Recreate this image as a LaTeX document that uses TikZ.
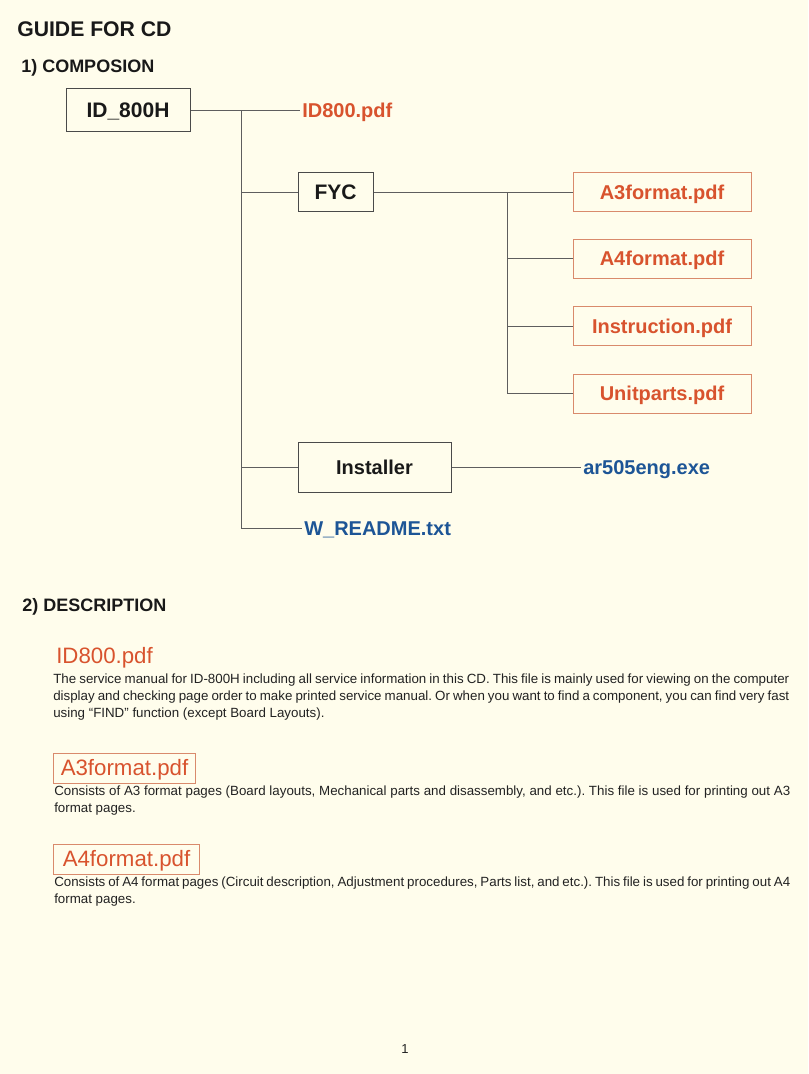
\documentclass[tikz,border=0pt]{standalone}
\usepackage{fontspec}
\setmainfont{Liberation Sans}
\definecolor{bg}{HTML}{FFFDEC}
\definecolor{orangeT}{HTML}{D8532E}
\definecolor{orangeB}{HTML}{D98A6C}
\definecolor{blueT}{HTML}{1D5596}
\definecolor{lineC}{HTML}{5E5E5E}
\definecolor{boxB}{HTML}{4A4A4A}
\definecolor{bodyT}{HTML}{222222}
\tikzset{
  ln/.style={draw=lineC, line width=0.75pt},
  title/.style={anchor=base west, inner sep=0pt, text=black!90, font=\fontsize{15.9pt}{18pt}\selectfont\bfseries},
  section/.style={anchor=base west, inner sep=0pt, text=black!90, font=\fontsize{13.5pt}{16pt}\selectfont\bfseries},
  treebox/.style={draw=boxB, line width=0.75pt, inner sep=0pt, text=black!90, text height=11.2pt, text depth=0pt, font=\fontsize{15.75pt}{18pt}\selectfont\bfseries},
  filebox/.style={draw=orangeB, line width=0.75pt, inner sep=0pt, minimum width=133.5pt, minimum height=29.25pt, text=orangeT, text height=10.7pt, text depth=0pt, font=\fontsize{15pt}{18pt}\selectfont\bfseries},
  filetext/.style={anchor=west, inner sep=1.5pt, text height=10.7pt, text depth=0pt, font=\fontsize{15pt}{18pt}\selectfont\bfseries},
  deschead/.style={text=orangeT, font=\fontsize{16.7pt}{19pt}\selectfont, text height=11.9pt, text depth=0pt},
  descbox/.style={deschead, draw=orangeB, line width=0.75pt, anchor=west, inner xsep=3pt, inner ysep=0pt, minimum height=22.5pt},
  body/.style={anchor=base west, inner sep=0pt, text=bodyT}
}
\newcommand{\bodypar}[1]{\parbox[t]{552pt}{\frenchspacing\fontsize{10pt}{13pt}\selectfont #1}}
\begin{document}
\begin{tikzpicture}[x=0.75pt,y=-0.75pt]
\fill[bg] (0,0) rectangle (808,1074);
\useasboundingbox (0,0) rectangle (808,1074);

% titles
\node[title] (guide) at (17,37) {GUIDE FOR CD};
\node[section] (comp) at (21,73) {1) COMPOSION};
\node[section] (desc) at (22,611) {2) DESCRIPTION};

% tree
\node[treebox, minimum width=93pt, minimum height=32.25pt] (root) at (128,110) {ID\_800H};
\node[filetext, text=orangeT] (id800) at (300,110) {ID800.pdf};
\node[treebox, minimum width=56.25pt, minimum height=29.25pt] (fyc) at (335.5,192) {FYC};
\node[filebox] (a3) at (662,192) {A3format.pdf};
\node[filebox] (a4) at (662,258.5) {A4format.pdf};
\node[filebox] (ins) at (662,326) {Instruction.pdf};
\node[filebox] (unit) at (662,393.5) {Unitparts.pdf};
\node[treebox, minimum width=114.75pt, minimum height=37.5pt, font=\fontsize{15pt}{18pt}\selectfont\bfseries, text height=10.7pt] (inst) at (374.5,467.5) {Installer};
\node[filetext, text=blueT] (ar) at (581,467.5) {ar505eng.exe};
\node[filetext, text=blueT] (readme) at (302,528) {W\_README.txt};

\coordinate (tx) at (241,0);
\coordinate (sx) at (507,0);

\draw[ln] (root.east) -- (id800.west);
\draw[ln] (root.east -| tx) -- (readme.west -| tx);
\draw[ln] (fyc.west -| tx) -- (fyc.west);
\draw[ln] (inst.west -| tx) -- (inst.west);
\draw[ln] (readme.west -| tx) -- (readme.west);
\draw[ln] (fyc.east) -- (a3.west);
\draw[ln] (a3.west -| sx) -- (unit.west -| sx);
\draw[ln] (a4.west -| sx) -- (a4.west);
\draw[ln] (ins.west -| sx) -- (ins.west);
\draw[ln] (unit.west -| sx) -- (unit.west);
\draw[ln] (inst.east) -- (ar.west);

% description
\node[deschead, anchor=west, inner sep=0pt] (h1) at (56,655.5) {ID800.pdf};
\node[body] (p1) at (53,683) {\bodypar{The service manual for ID-800H including all service information in this CD. This file is mainly used for viewing on the computer\linebreak display and checking page order to make printed service manual. Or when you want to find a component, you can find very fast\linebreak using “FIND” function (except Board Layouts).}};

\node[descbox, minimum width=106.5pt] (h2) at (53,768) {A3format.pdf};
\node[body] (p2) at (54,795) {\bodypar{Consists of A3 format pages (Board layouts, Mechanical parts and disassembly, and etc.). This file is used for printing out A3\linebreak format pages.}};

\node[descbox, minimum width=109.5pt] (h3) at (53,859) {A4format.pdf};
\node[body] (p3) at (54,886) {\bodypar{Consists of A4 format pages (Circuit description, Adjustment procedures, Parts list, and etc.). This file is used for printing out A4\linebreak format pages.}};

\node[anchor=base, inner sep=0pt, text=bodyT, font=\fontsize{9.75pt}{12pt}\selectfont] (pg) at (405,1053) {1};
\end{tikzpicture}
\end{document}
